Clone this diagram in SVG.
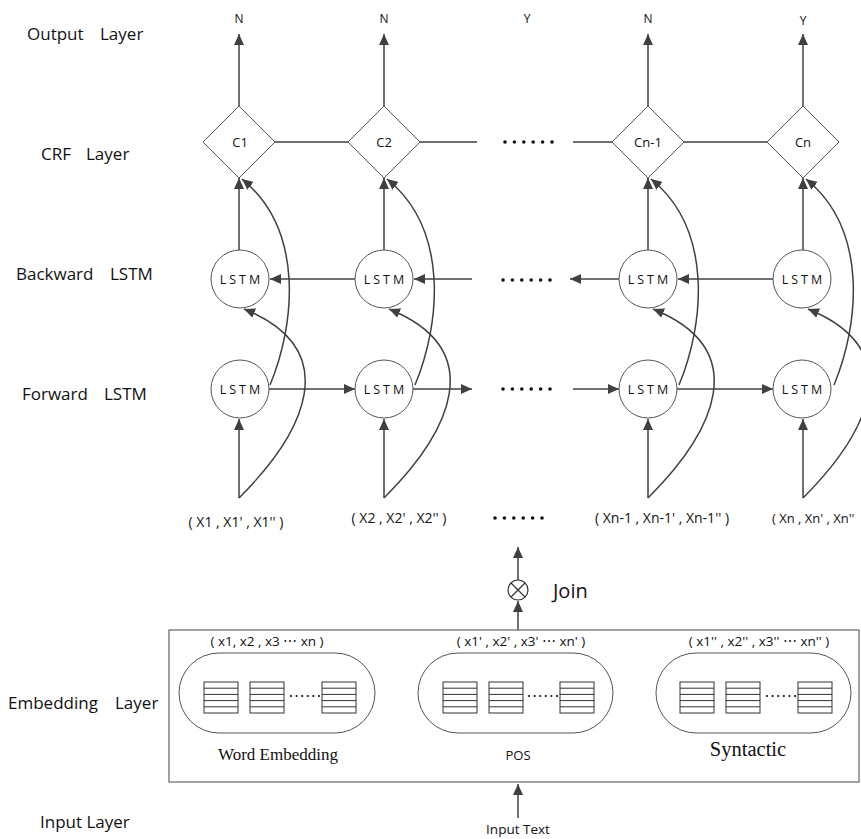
<svg xmlns="http://www.w3.org/2000/svg" width="861" height="839" viewBox="0 0 861 839">
<defs>
<marker id="ah" viewBox="0 0 11 10" refX="11" refY="5" markerWidth="11" markerHeight="10" markerUnits="userSpaceOnUse" orient="auto"><path d="M0,0 L11,5 L0,10 z" fill="#404040"/></marker>
<g id="stack"><rect x="0" y="0" width="34" height="31" fill="#fff" stroke="#333" stroke-width="1"/><path d="M0,6.2H34M0,12.4H34M0,18.6H34M0,24.8H34" stroke="#333" stroke-width="1"/></g>
<g id="dots6"><circle cx="0" cy="0" r="1.8"/><circle cx="9.4" cy="0" r="1.8"/><circle cx="18.8" cy="0" r="1.8"/><circle cx="28.2" cy="0" r="1.8"/><circle cx="37.6" cy="0" r="1.8"/><circle cx="47" cy="0" r="1.8"/></g>
<g id="sdots"><circle cx="0" cy="0" r="1.1"/><circle cx="5.6" cy="0" r="1.1"/><circle cx="11.2" cy="0" r="1.1"/><circle cx="16.8" cy="0" r="1.1"/><circle cx="22.4" cy="0" r="1.1"/><circle cx="28" cy="0" r="1.1"/></g>
</defs>
<style>
text{font-family:"Open Sans","Liberation Sans",sans-serif;fill:#111}
.lbl{font-size:17px}
.sm{font-size:12px}
.md{font-size:14px}
.hd{font-size:13.5px}
.lstm{font-size:12.5px;letter-spacing:3px}
.serif{font-family:"Liberation Serif","Times New Roman",serif}
.node{fill:#fff;stroke:#555;stroke-width:1}
.c{fill:none;stroke:#404040;stroke-width:1.5}
.a{fill:none;stroke:#404040;stroke-width:1.5;marker-end:url(#ah)}
</style>
<rect width="861" height="839" fill="#fff"/>

<g id="layer-labels">
<text class="lbl" y="40"><tspan x="27">Output </tspan><tspan x="100">Layer</tspan></text>
<text class="lbl" y="160"><tspan x="41">CRF </tspan><tspan x="86">Layer</tspan></text>
<text class="lbl" y="280"><tspan x="16">Backward </tspan><tspan x="110">LSTM</tspan></text>
<text class="lbl" y="400"><tspan x="22">Forward </tspan><tspan x="104">LSTM</tspan></text>
<text class="lbl" y="709"><tspan x="8">Embedding </tspan><tspan x="115">Layer</tspan></text>
<text class="lbl" x="40" y="828">Input Layer</text>
</g>

<g id="outputs" class="sm" text-anchor="middle">
<text x="239" y="23">N</text>
<text x="384" y="23">N</text>
<text x="527" y="23">Y</text>
<text x="648" y="23">N</text>
<text x="803" y="25">Y</text>
</g>

<g id="connectors">
<!-- CRF to output -->
<path class="a" d="M239,106V34"/>
<path class="a" d="M384,106V34"/>
<path class="a" d="M648,106V34"/>
<path class="a" d="M803,106V34"/>
<!-- CRF chain -->
<path class="c" d="M275,142H348M419,142H477M573,142H613M684,142H767"/>
<!-- backward LSTM to CRF -->
<path class="a" d="M239,250V178"/>
<path class="a" d="M384,250V178"/>
<path class="a" d="M648,250V178"/>
<path class="a" d="M803,250V178"/>
<!-- backward chain -->
<path class="a" d="M355,279H270"/>
<path class="a" d="M472,279H414"/>
<path class="a" d="M619,279H570"/>
<path class="a" d="M773,279H678"/>
<!-- forward chain -->
<path class="a" d="M269,389H355"/>
<path class="a" d="M413,389H472"/>
<path class="a" d="M573,389H619"/>
<path class="a" d="M677,389H773"/>
<!-- inputs to forward LSTM -->
<path class="a" d="M239,498V419"/>
<path class="a" d="M384,498V419"/>
<path class="a" d="M648,498V419"/>
<path class="a" d="M803,498V419"/>
<!-- inputs to backward LSTM (curves) -->
<path class="a" d="M239,498C305,432 345,350 244,309"/>
<path class="a" d="M384,498C450,432 490,350 389,309"/>
<path class="a" d="M648,498C714,432 754,350 653,309"/>
<path class="a" d="M803,498C869,432 909,350 808,309"/>
<!-- forward LSTM to CRF (curves) -->
<path class="a" d="M270,385C295,325 305,230 242,179"/>
<path class="a" d="M415,385C440,325 450,230 387,179"/>
<path class="a" d="M679,385C704,325 714,230 651,179"/>
<path class="a" d="M834,385C859,325 869,230 806,179"/>
<!-- join -->
<path class="a" d="M518,630V601"/>
<path class="a" d="M518,580V547"/>
<path class="a" d="M518,818V784"/>
</g>

<g id="ellipses" fill="#111">
<use href="#dots6" x="505" y="142"/>
<use href="#dots6" x="503" y="280"/>
<use href="#dots6" x="503" y="389"/>
<use href="#dots6" x="495" y="518"/>
</g>

<g id="crf-nodes" font-size="13" text-anchor="middle">
<g id="c1"><path class="node" d="M239,106L275,142L239,178L203,142Z"/><text x="240" y="147">C1</text></g>
<g id="c2"><path class="node" d="M384,106L420,142L384,178L348,142Z"/><text x="384" y="147">C2</text></g>
<g id="cn-1"><path class="node" d="M648,106L684,142L648,178L612,142Z"/><text x="648" y="147">Cn-1</text></g>
<g id="cn"><path class="node" d="M803,106L839,142L803,178L767,142Z"/><text x="803" y="147">Cn</text></g>
</g>

<g id="lstm-nodes" class="lstm" text-anchor="middle">
<g id="b1"><circle class="node" cx="240" cy="279" r="29"/><text x="241.5" y="284">LSTM</text></g>
<g id="b2"><circle class="node" cx="384" cy="279" r="29"/><text x="385.5" y="284">LSTM</text></g>
<g id="bn-1"><circle class="node" cx="648" cy="279" r="29"/><text x="649.5" y="284">LSTM</text></g>
<g id="bn"><circle class="node" cx="802" cy="279" r="29"/><text x="803.5" y="284">LSTM</text></g>
<g id="f1"><circle class="node" cx="240" cy="389" r="29"/><text x="241.5" y="394">LSTM</text></g>
<g id="f2"><circle class="node" cx="384" cy="389" r="29"/><text x="385.5" y="394">LSTM</text></g>
<g id="fn-1"><circle class="node" cx="648" cy="389" r="29"/><text x="649.5" y="394">LSTM</text></g>
<g id="fn"><circle class="node" cx="802" cy="389" r="29"/><text x="803.5" y="394">LSTM</text></g>
</g>

<g id="inputs" class="md" text-anchor="middle">
<text x="236" y="527">( X1 , X1' , X1'' )</text>
<text x="399" y="523">( X2 , X2' , X2'' )</text>
<text x="662" y="523">( Xn-1 , Xn-1' , Xn-1'' )</text>
<text x="772" y="523" font-size="13" text-anchor="start">( Xn , Xn' , Xn''</text>
</g>

<g id="join">
<circle cx="518" cy="590" r="10" fill="#fff" stroke="#333" stroke-width="1.2"/>
<path d="M511,583L525,597M525,583L511,597" stroke="#333" stroke-width="1.2"/>
<text x="553" y="598" font-size="20">Join</text>
</g>

<g id="embedding-layer">
<rect x="169" y="630" width="690" height="152" fill="none" stroke="#666" stroke-width="1.2"/>
<g id="word-emb">
<rect class="node" x="179" y="653" width="196" height="80" rx="40"/>
<use href="#stack" x="204" y="682"/><use href="#stack" x="250" y="682"/><use href="#stack" x="322" y="682"/>
<use href="#sdots" x="291" y="696" fill="#111"/>
<text class="hd" x="267" y="646" text-anchor="middle">( x1, x2 , x3 ⋯ xn )</text>
<text class="serif" x="278" y="760" font-size="17" text-anchor="middle">Word Embedding</text>
</g>
<g id="pos">
<rect class="node" x="418" y="653" width="195" height="80" rx="40"/>
<use href="#stack" x="443" y="682"/><use href="#stack" x="489" y="682"/><use href="#stack" x="560" y="682"/>
<use href="#sdots" x="529" y="696" fill="#111"/>
<text class="hd" x="521" y="646" text-anchor="middle">( x1' , x2' , x3' ⋯ xn' )</text>
<text x="518" y="760" font-size="13" text-anchor="middle">POS</text>
</g>
<g id="syntactic">
<rect class="node" x="656" y="653" width="195" height="80" rx="40"/>
<use href="#stack" x="680" y="682"/><use href="#stack" x="726" y="682"/><use href="#stack" x="798" y="682"/>
<use href="#sdots" x="767" y="696" fill="#111"/>
<text class="hd" x="759" y="646" text-anchor="middle">( x1'' , x2'' , x3'' ⋯ xn'' )</text>
<text class="serif" x="748" y="756" font-size="20.5" text-anchor="middle">Syntactic</text>
</g>
</g>

<g id="input-text">
<text x="518" y="834" font-size="13.5" text-anchor="middle">Input Text</text>
</g>
</svg>
